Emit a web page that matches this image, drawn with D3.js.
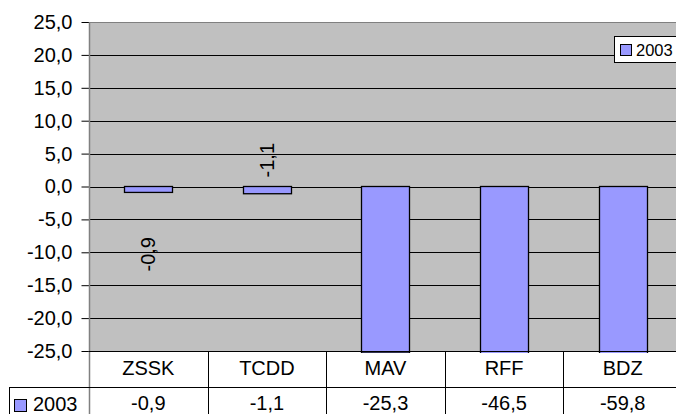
<!DOCTYPE html>
<html>
<head>
<meta charset="utf-8">
<script src="https://cdn.jsdelivr.net/npm/d3@7"></script>
<style>
    body { margin: 0; background: #fff; }
    svg { display: block; font-family: "Liberation Sans", Arial, sans-serif; }
</style>
</head>
<body>
<svg id="chart"></svg>
<script>
// data
const categories = ["ZSSK", "TCDD", "MAV", "RFF", "BDZ"];
const values2003 = [-0.9, -1.1, -25.3, -46.5, -59.8];
const seriesName = "2003";
const yTickValues = [-25, -20, -15, -10, -5, 0, 5, 10, 15, 20, 25];

// comma decimals, plain hyphen for minus
const fmt = d3.formatLocale({decimal: ",", thousands: ".", grouping: [3], currency: ["", ""], minus: "-"}).format('.1f');

class TableBarChart {

    constructor(config) {
        this.config = {
            parent: config.parent,
            width: config.width || 676,
            height: config.height || 414,
            margin: config.margin || {top: 22, left: 89, plotBottom: 351},
            plotRight: config.plotRight || 682,
            rowHeight: config.rowHeight || 36
        }
        this.init();
    }

    init() {
        let self = this;
        self.svg = d3.select(self.config.parent)
            .attr('width', self.config.width)
            .attr('height', self.config.height);

        self.xScale = d3.scaleBand()
            .domain(categories)
            .range([self.config.margin.left, self.config.plotRight])
            .paddingInner(0.595)
            .paddingOuter(0.2975);
        // column boundaries for the data table
        self.colScale = d3.scaleBand()
            .domain(categories)
            .range([self.config.margin.left, self.config.plotRight]);

        self.yScale = d3.scaleLinear()
            .domain([-25, 25])
            .range([self.config.margin.plotBottom, self.config.margin.top]);
    }

    render() {
        let self = this;
        const left = self.config.margin.left;
        const right = self.config.plotRight;
        const top = self.config.margin.top;
        const bottom = self.config.margin.plotBottom;

        // plot background
        self.svg.append('rect')
            .attr('x', left).attr('y', top)
            .attr('width', right - left).attr('height', bottom - top)
            .attr('fill', '#c0c0c0');

        // gridlines
        self.svg.append('g')
            .selectAll('line')
            .data(yTickValues)
            .join('line')
            .attr('x1', left).attr('x2', right)
            .attr('y1', d => Math.round(self.yScale(d)) + 0.5)
            .attr('y2', d => Math.round(self.yScale(d)) + 0.5)
            .attr('stroke', d => d === 25 ? '#808080' : '#000')
            .attr('stroke-width', 1);

        // bars (clipped to plot area)
        self.svg.append('clipPath').attr('id', 'plot-clip')
            .append('rect')
            .attr('x', left).attr('y', top)
            .attr('width', right - left).attr('height', bottom - top + 2);

        self.svg.append('g')
            .attr('clip-path', 'url(#plot-clip)')
            .selectAll('rect')
            .data(values2003)
            .join('rect')
            .attr('x', (d, i) => Math.round(self.xScale(categories[i])) + 0.5)
            .attr('y', d => self.yScale(Math.max(0, d)))
            .attr('width', Math.round(self.xScale.bandwidth()))
            .attr('height', d => Math.abs(self.yScale(d) - self.yScale(0)))
            .attr('fill', '#9999ff')
            .attr('stroke', '#000')
            .attr('stroke-width', 1.3);

        // data labels (only the ones that fall inside the plot)
        const labelAt = [-10.3, 4]; // value position of the visible labels
        self.svg.append('g')
            .selectAll('text')
            .data(values2003.filter(d => d >= -25))
            .join('text')
            .attr('transform', (d, i) => {
                const cx = self.xScale(categories[i]) + self.xScale.bandwidth() / 2;
                return `translate(${cx + 7},${self.yScale(labelAt[i])}) rotate(-90)`;
            })
            .attr('text-anchor', 'middle')
            .attr('font-size', '20px')
            .attr('fill', '#000')
            .text(d => fmt(d));

        // y axis
        const yAxis = d3.axisLeft(self.yScale)
            .tickValues(yTickValues)
            .tickSize(8)
            .tickPadding(9)
            .tickFormat(d => fmt(d));
        const ay = self.svg.append('g')
            .attr('class', 'axis axis-y')
            .attr('transform', `translate(${left + 0.5},0)`)
            .call(yAxis);
        ay.select('.domain').remove();
        ay.selectAll('.tick line').attr('stroke', '#000');
        ay.selectAll('.tick text')
            .attr('font-size', '20px')
            .attr('font-family', '"Liberation Sans", Arial, sans-serif')
            .attr('fill', '#000');

        // axis line, runs through the table
        self.svg.append('line')
            .attr('x1', left + 0.5).attr('x2', left + 0.5)
            .attr('y1', top).attr('y2', self.config.height)
            .attr('stroke', '#808080').attr('stroke-width', 1.5);

        // data table
        const rowH = self.config.rowHeight;
        const table = self.svg.append('g').attr('class', 'table');
        table.append('line')
            .attr('x1', left).attr('x2', right)
            .attr('y1', bottom + 0.5).attr('y2', bottom + 0.5)
            .attr('stroke', '#000');
        table.append('line')
            .attr('x1', 9).attr('x2', right)
            .attr('y1', bottom + rowH + 0.5).attr('y2', bottom + rowH + 0.5)
            .attr('stroke', '#000');
        table.append('line')
            .attr('x1', 9.5).attr('x2', 9.5)
            .attr('y1', bottom + rowH).attr('y2', self.config.height)
            .attr('stroke', '#000');
        table.selectAll('line.col')
            .data(categories.slice(1))
            .join('line')
            .attr('class', 'col')
            .attr('x1', d => Math.round(self.colScale(d)) + 0.5)
            .attr('x2', d => Math.round(self.colScale(d)) + 0.5)
            .attr('y1', bottom).attr('y2', self.config.height)
            .attr('stroke', '#000');

        table.selectAll('text.cat')
            .data(categories)
            .join('text')
            .attr('class', 'cat')
            .attr('x', d => self.colScale(d) + self.colScale.bandwidth() / 2)
            .attr('y', bottom + 24)
            .attr('text-anchor', 'middle')
            .attr('font-size', '20px')
            .text(d => d);

        table.selectAll('text.val')
            .data(values2003)
            .join('text')
            .attr('class', 'val')
            .attr('x', (d, i) => self.colScale(categories[i]) + self.colScale.bandwidth() / 2)
            .attr('y', bottom + rowH + 23)
            .attr('text-anchor', 'middle')
            .attr('font-size', '20px')
            .text(d => fmt(d));

        // row header with legend key
        table.append('rect')
            .attr('x', 14.5).attr('y', bottom + rowH + 12.5)
            .attr('width', 12).attr('height', 12)
            .attr('fill', '#9999ff').attr('stroke', '#000');
        table.append('text')
            .attr('x', 33).attr('y', bottom + rowH + 24)
            .attr('font-size', '20px')
            .text(seriesName);

        // legend
        const legend = self.svg.append('g').attr('class', 'legend');
        legend.append('rect')
            .attr('x', 614.5).attr('y', 36.5)
            .attr('width', 80).attr('height', 26)
            .attr('fill', '#fff').attr('stroke', '#000');
        legend.append('rect')
            .attr('x', 620.5).attr('y', 44.5)
            .attr('width', 11).attr('height', 11)
            .attr('fill', '#9999ff').attr('stroke', '#000');
        legend.append('text')
            .attr('x', 636).attr('y', 56)
            .attr('font-size', '16.5px')
            .text(seriesName);
    }
}

let chart = new TableBarChart({parent: '#chart'});
chart.render();
</script>
</body>
</html>
